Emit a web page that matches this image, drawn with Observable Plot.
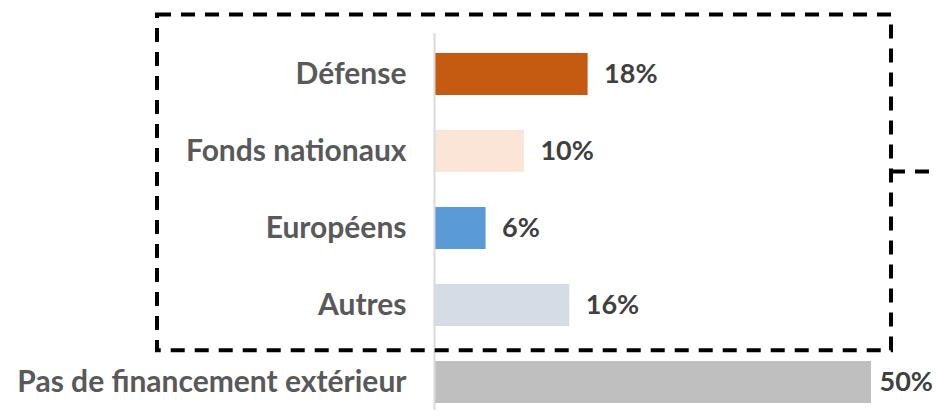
<!DOCTYPE html>
<html><head><meta charset="utf-8">
<script src="https://cdn.jsdelivr.net/npm/d3@7"></script>
<script src="https://cdn.jsdelivr.net/npm/@observablehq/plot@0.6"></script>
<style>body{margin:0;background:#fff}svg{display:block}</style>
</head><body><div id="chart"></div>
<script>
const categories = ["Défense", "Fonds nationaux", "Européens", "Autres", "Pas de financement extérieur"];
const values = [17.5, 10.2, 5.8, 15.4, 50];
const valueLabels = ["18%", "10%", "6%", "16%", "50%"];
const colors = ["#c55a11", "#fbe5d6", "#5b9bd5", "#d6dce5", "#bfbfbf"];

const data = categories.map((c, i) => ({cat: c, value: values[i], label: valueLabels[i]}));
const FONT = "Lato, 'Open Sans', sans-serif";

function dashedBox(index, scales, vals, dimensions) {
  const x = scales.x, y = scales.y;
  const step = y(categories[1]) - y(categories[0]);
  const bw = step * (1 - 0.46);
  const top = y(categories[0]) - 0.5 * step;
  const bottom = y(categories[4]) - 0.14 * step;
  const left = x(0) - 278;
  const right = x(50) + 20;
  const ext = y(categories[1]) + bw;
  const g = d3.create("svg:g")
    .attr("fill", "none").attr("stroke", "#000").attr("stroke-width", 4)
    .attr("stroke-dasharray", "14,10");
  g.append("path").attr("d", `M${right},${ext}H${dimensions.width}`);
  g.append("path").attr("d", `M${left},${top}H${right}V${bottom}H${left}Z`);
  return g.node();
}

const valueText = {x: "value", y: "cat", text: "label", textAnchor: "start", fontSize: 27, fontWeight: "bold", fill: "#404040"};

const chart = Plot.plot({
  width: 936,
  height: 418,
  marginLeft: 435,
  marginRight: 65,
  marginTop: 33,
  marginBottom: 8,
  style: {fontFamily: FONT, background: "#fff"},
  x: {domain: [0, 50], axis: null},
  y: {domain: categories, axis: null, paddingInner: 0.46, paddingOuter: 0.16, align: 0.73},
  color: {domain: categories, range: colors},
  marks: [
    Plot.barX(data, {x: "value", y: "cat", fill: "cat"}),
    Plot.ruleX([0], {stroke: "#d9d9d9", strokeWidth: 2, dx: -1}),
    Plot.text(data, {x: 0, y: "cat", text: "cat", textAnchor: "end", dx: -29, fontSize: 30, fontWeight: "bold", fill: "#595959"}),
    Plot.text(data.slice(0, 4), {...valueText, dx: 16}),
    Plot.text(data.slice(4), {...valueText, dx: 8}),
    dashedBox
  ]
});
document.getElementById("chart").append(chart);
</script>
</body></html>
